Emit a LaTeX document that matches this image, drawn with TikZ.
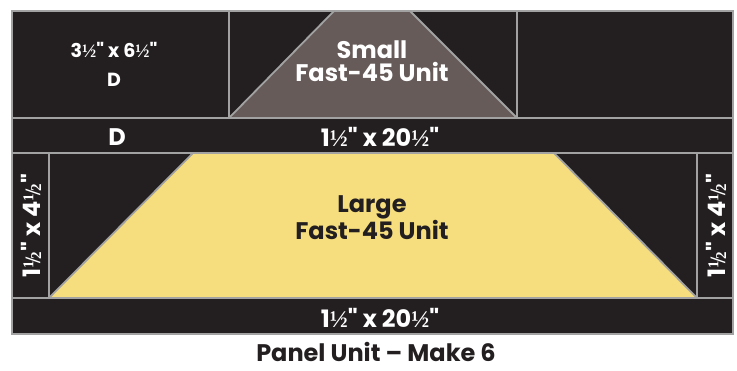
\documentclass[tikz,border=0pt]{standalone}
\usepackage{fontspec}
\setmainfont{Poppins}[Ligatures=TeXOff]
\newfontfamily\fracfont{Liberation Serif}
\usetikzlibrary{calc}
\usetikzlibrary{positioning}
\definecolor{fabricDark}{HTML}{231F20}
\definecolor{fabricGrey}{HTML}{665B59}
\definecolor{fabricYellow}{HTML}{F6DE7E}
\definecolor{seamGrey}{HTML}{A2A2A2}
\tikzstyle{patch} = [draw=seamGrey, line width=1.8pt, line join=miter]
\tikzstyle{cutlabel} = [text=white, font=\bfseries\fontsize{24}{26}\selectfont, inner sep=0pt]
\tikzstyle{smalllabel} = [text=white, font=\bfseries\fontsize{19}{29}\selectfont, align=center, inner sep=0pt]
\tikzstyle{unitlabel} = [font=\bfseries\fontsize{24}{23}\selectfont, align=center, inner sep=0pt]
\tikzstyle{captionlabel} = [text=fabricDark, font=\bfseries\fontsize{24}{24}\selectfont, inner sep=0pt]
\newcommand{\half}{{\fracfont\bfseries ½}}
\newcommand{\tallhalf}{{\fracfont\bfseries\raisebox{0.6ex}{\fontsize{15}{15}\selectfont 1}\kern-0.08em{\fontsize{22}{22}\selectfont/}\kern-0.08em\raisebox{-0.1ex}{\fontsize{15}{15}\selectfont 2}}}

\begin{document}
\begin{tikzpicture}[x=1pt, y=-1pt]
\useasboundingbox (0,0) rectangle (737,370);
% fabric pieces
\fill[fabricDark] (12,11) rectangle (733,334);
\fill[fabricGrey] (229,118) -- (334,11) -- (410,11) -- (517,118) -- cycle;
\fill[fabricYellow] (49,298) -- (193,153) -- (554,153) -- (697,298) -- cycle;
% seams
\draw[patch] (229,118) -- (334,11);
\draw[patch] (410,11) -- (517,118);
\draw[patch] (49,298) -- (193,153);
\draw[patch] (554,153) -- (697,298);
\draw[patch] (229,11) -- (229,118);
\draw[patch] (517,11) -- (517,118);
\draw[patch] (12,118) -- (733,118);
\draw[patch] (12,153) -- (733,153);
\draw[patch] (49,153) -- (49,298);
\draw[patch] (697,153) -- (697,298);
\draw[patch] (12,298) -- (733,298);
\draw[patch] (12,11) rectangle (733,334);

\node[smalllabel] (corner_cut) at (114,64) {3\half" x 6\half"\\D};
\node[unitlabel, text=white] (small_unit) at (372,61) {Small\\Fast-45 Unit};
\node[cutlabel] (strip_d) at (117,137) {D};
\node[cutlabel] (top_strip) at (380,137) {1\half" x 20\half"};
\node[unitlabel, text=fabricDark] (large_unit) at (372,218) {Large\\Fast-45 Unit};
\node[cutlabel, rotate=90] (left_side) at (31,226) {1\tallhalf" x 4\tallhalf"};
\node[cutlabel, rotate=90] (right_side) at (716,226) {1\tallhalf" x 4\tallhalf"};
\node[cutlabel] (bottom_strip) at (380,318) {1\half" x 20\half"};
\node[captionlabel] (caption) at (376,352) {Panel Unit – Make 6};
\end{tikzpicture}
\end{document}
